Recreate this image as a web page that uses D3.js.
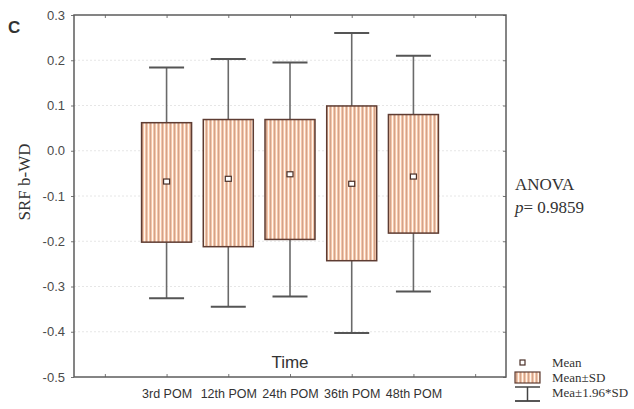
<!DOCTYPE html>
<html>
<head>
<meta charset="utf-8">
<script src="https://cdn.jsdelivr.net/npm/d3@7"></script>
<style>
  body { margin: 0; background: #fff; }
  svg { display: block; }
</style>
</head>
<body>
<div id="chart"></div>
<script>
// chart values
var categories = ["3rd POM", "12th POM", "24th POM", "36th POM", "48th POM"];
var means   = [-0.068, -0.062, -0.052, -0.073, -0.057];
var sdLow   = [-0.202, -0.212, -0.196, -0.243, -0.182];
var sdHigh  = [0.062, 0.069, 0.069, 0.099, 0.080];
var ciLow   = [-0.326, -0.345, -0.322, -0.403, -0.311];
var ciHigh  = [0.184, 0.203, 0.195, 0.260, 0.210];
var yTicks  = [0.3, 0.2, 0.1, 0.0, -0.1, -0.2, -0.3, -0.4, -0.5];
var xSlots  = [0, 1, 2, 3, 4, 5, 6];

// svg size
var svgWidth = 634;
var svgHeight = 409;

// plot area
var margin = { top: 15, right: 128, bottom: 32, left: 74 };
var width = svgWidth - margin.left - margin.right;
var height = svgHeight - margin.top - margin.bottom;

var svg = d3.select("#chart")
  .append("svg")
  .attr("width", svgWidth)
  .attr("height", svgHeight);

// stripe pattern for the boxes
var defs = svg.append("defs");
var pat = defs.append("pattern")
  .attr("id", "stripes")
  .attr("patternUnits", "userSpaceOnUse")
  .attr("width", 4)
  .attr("height", 10);
pat.append("rect").attr("width", 4).attr("height", 10).attr("fill", "#f4c6aa");
pat.append("line").attr("x1", 0.5).attr("x2", 0.5).attr("y1", 0).attr("y2", 10)
  .attr("stroke", "#b88c76").attr("stroke-width", 0.6);
pat.append("line").attr("x1", 2.5).attr("x2", 2.5).attr("y1", 0).attr("y2", 10)
  .attr("stroke", "#fff6ec").attr("stroke-width", 1);

var chartGroup = svg.append("g")
  .attr("transform", `translate(${margin.left}, ${margin.top})`);

// scales
var xScale = d3.scaleLinear()
  .domain([-0.5, 6.5])
  .range([0, width]);

var yScale = d3.scaleLinear()
  .domain([-0.5, 0.3])
  .range([height, 0]);

// faint dotted grid
chartGroup.append("g").selectAll("line")
  .data(yTicks.slice(1, -1))
  .enter()
  .append("line")
  .attr("x1", 0)
  .attr("x2", width)
  .attr("y1", d => yScale(d))
  .attr("y2", d => yScale(d))
  .attr("stroke", "#e6e6e6")
  .attr("stroke-width", 1)
  .attr("stroke-dasharray", "2,2");

// axes
var leftAxis = d3.axisLeft(yScale)
  .tickValues(yTicks)
  .tickFormat(d => d.toFixed(1))
  .tickSizeInner(3)
  .tickSizeOuter(0)
  .tickPadding(6);

var bottomAxis = d3.axisBottom(xScale)
  .tickValues(xSlots)
  .tickFormat(d => categories[d - 1] || "")
  .tickSizeInner(-3)
  .tickSizeOuter(0)
  .tickPadding(12);

var yAxisG = chartGroup.append("g").call(leftAxis);
yAxisG.selectAll("text")
  .attr("font-family", "Liberation Sans, Arial, sans-serif")
  .attr("font-size", "13px")
  .attr("fill", "#4a4a4a");

var xAxisG = chartGroup.append("g")
  .attr("transform", `translate(0, ${height})`)
  .call(bottomAxis);
xAxisG.selectAll("text")
  .attr("font-family", "Liberation Sans Narrow, Liberation Sans, Arial, sans-serif")
  .attr("font-size", "12.5px")
  .attr("fill", "#333");

// top and right inward ticks
var topAxis = d3.axisTop(xScale).tickValues(xSlots).tickFormat("").tickSizeInner(-3).tickSizeOuter(0);
var rightAxis = d3.axisRight(yScale).tickValues(yTicks).tickFormat("").tickSizeInner(-3).tickSizeOuter(0);
chartGroup.append("g").call(topAxis);
chartGroup.append("g").attr("transform", `translate(${width}, 0)`).call(rightAxis);

chartGroup.selectAll(".domain").attr("stroke", "none");
chartGroup.selectAll(".tick line").attr("stroke", "#777");

// frame
chartGroup.append("rect")
  .attr("x", 0)
  .attr("y", 0)
  .attr("width", width)
  .attr("height", height)
  .attr("fill", "none")
  .attr("stroke", "#5c5c5c")
  .attr("stroke-width", 1.5);

var boxW = 50;
var capW = 35;
var idx = d3.range(categories.length);

// whiskers
chartGroup.append("g").selectAll("line")
  .data(idx)
  .enter()
  .append("line")
  .attr("x1", i => xScale(i + 1))
  .attr("x2", i => xScale(i + 1))
  .attr("y1", i => yScale(ciHigh[i]))
  .attr("y2", i => yScale(ciLow[i]))
  .attr("stroke", "#6a6a6a")
  .attr("stroke-width", 1.6);

// caps
[ciHigh, ciLow].forEach(function(arr) {
  chartGroup.append("g").selectAll("line")
    .data(idx)
    .enter()
    .append("line")
    .attr("x1", i => xScale(i + 1) - capW / 2)
    .attr("x2", i => xScale(i + 1) + capW / 2)
    .attr("y1", i => yScale(arr[i]))
    .attr("y2", i => yScale(arr[i]))
    .attr("stroke", "#555")
    .attr("stroke-width", 2);
});

// mean +- SD boxes
chartGroup.append("g").selectAll("rect")
  .data(idx)
  .enter()
  .append("rect")
  .attr("x", i => xScale(i + 1) - boxW / 2)
  .attr("y", i => yScale(sdHigh[i]))
  .attr("width", boxW)
  .attr("height", i => yScale(sdLow[i]) - yScale(sdHigh[i]))
  .attr("fill", "url(#stripes)")
  .attr("stroke", "#5e3c32")
  .attr("stroke-width", 1.5);

// mean markers
chartGroup.append("g").selectAll("rect")
  .data(idx)
  .enter()
  .append("rect")
  .attr("x", i => xScale(i + 1) - 3)
  .attr("y", i => yScale(means[i]) - 2.5)
  .attr("width", 6)
  .attr("height", 5)
  .attr("fill", "#fff")
  .attr("stroke", "#4a3028")
  .attr("stroke-width", 1.2);

// axis titles
chartGroup.append("text")
  .attr("x", xScale(3))
  .attr("y", height - 9)
  .attr("text-anchor", "middle")
  .attr("font-family", "Liberation Sans, Arial, sans-serif")
  .attr("font-size", "17px")
  .attr("fill", "#333")
  .text("Time");

svg.append("text")
  .attr("transform", "rotate(-90)")
  .attr("x", -182)
  .attr("y", 30)
  .attr("text-anchor", "middle")
  .attr("font-family", "Liberation Serif, Times New Roman, serif")
  .attr("font-size", "17px")
  .attr("fill", "#333")
  .text("SRF b-WD");

// panel letter
svg.append("text")
  .attr("x", 8)
  .attr("y", 33)
  .attr("font-family", "Liberation Sans, Arial, sans-serif")
  .attr("font-size", "17px")
  .attr("font-weight", "bold")
  .attr("fill", "#333")
  .text("C");

// ANOVA annotation
svg.append("text")
  .attr("x", 515)
  .attr("y", 190)
  .attr("font-family", "Liberation Serif, Times New Roman, serif")
  .attr("font-size", "17px")
  .attr("fill", "#333")
  .text("ANOVA");

var pText = svg.append("text")
  .attr("x", 515)
  .attr("y", 213)
  .attr("font-family", "Liberation Serif, Times New Roman, serif")
  .attr("font-size", "17px")
  .attr("fill", "#333");
pText.append("tspan").attr("font-style", "italic").text("p");
pText.append("tspan").text("= 0.9859");

// legend
var lg = svg.append("g");
lg.append("rect")
  .attr("x", 520).attr("y", 360).attr("width", 5).attr("height", 5)
  .attr("fill", "#fff").attr("stroke", "#4a3028").attr("stroke-width", 1.2);
lg.append("rect")
  .attr("x", 515).attr("y", 372).attr("width", 25).attr("height", 11)
  .attr("fill", "url(#stripes)").attr("stroke", "#5e3c32").attr("stroke-width", 1.2);
lg.append("line")
  .attr("x1", 515).attr("x2", 540).attr("y1", 387).attr("y2", 387)
  .attr("stroke", "#444").attr("stroke-width", 1.5);
lg.append("line")
  .attr("x1", 527.5).attr("x2", 527.5).attr("y1", 387).attr("y2", 401)
  .attr("stroke", "#444").attr("stroke-width", 1.5);
lg.append("line")
  .attr("x1", 515).attr("x2", 540).attr("y1", 401).attr("y2", 401)
  .attr("stroke", "#444").attr("stroke-width", 1.8);

var legendLabels = ["Mean", "Mean±SD", "Mea±1.96*SD"];
lg.selectAll("text.leg")
  .data(legendLabels)
  .enter()
  .append("text")
  .attr("class", "leg")
  .attr("x", 552)
  .attr("y", (d, i) => 367 + i * 15)
  .attr("font-family", "Liberation Serif, Times New Roman, serif")
  .attr("font-size", "13px")
  .attr("fill", "#333")
  .text(d => d);
</script>
</body>
</html>
